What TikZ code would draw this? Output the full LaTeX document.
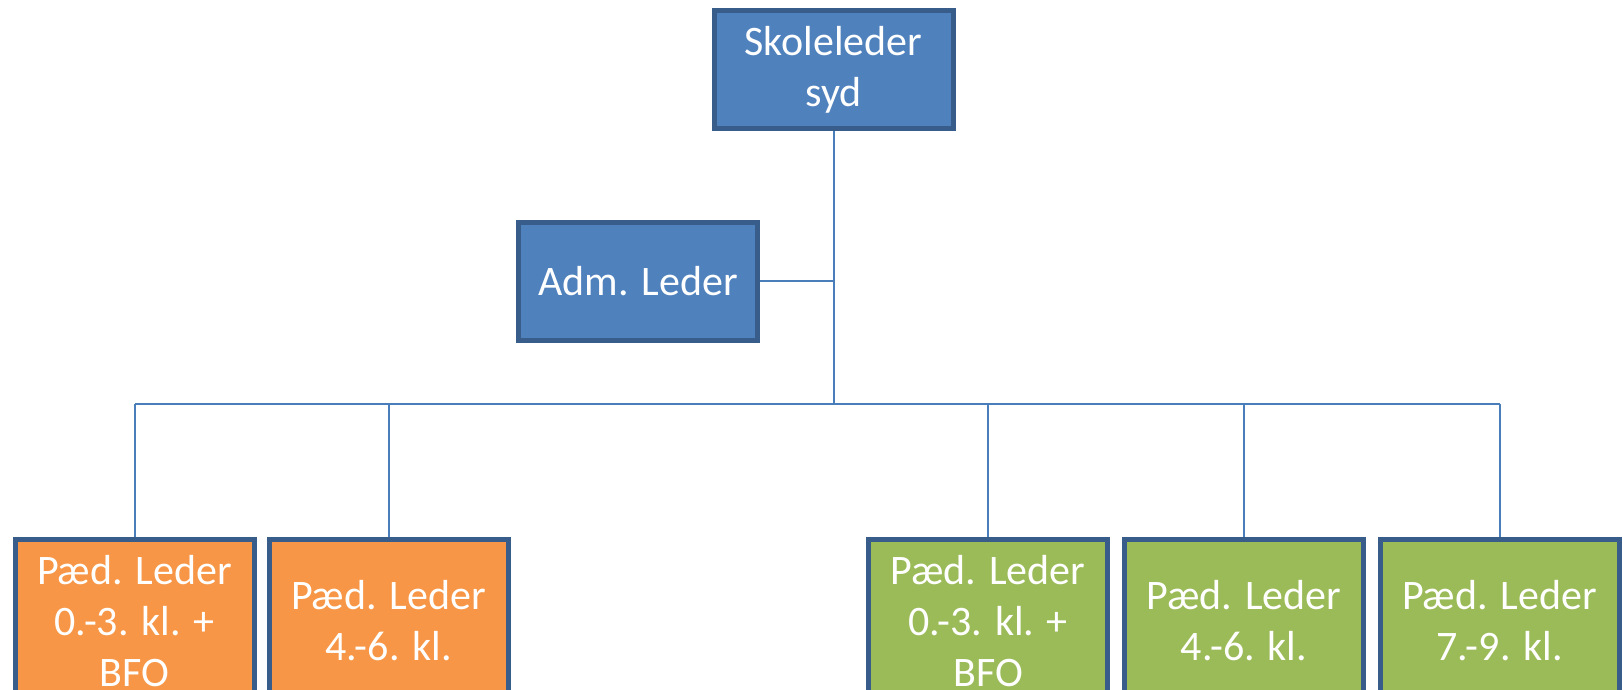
\documentclass[tikz,border=0pt]{standalone}
\usepackage{fontspec}
\setmainfont{Carlito}
\usetikzlibrary{backgrounds}
\definecolor{boxline}{HTML}{385D8A}
\definecolor{bluefill}{HTML}{4F81BD}
\definecolor{orangefill}{HTML}{F79646}
\definecolor{greenfill}{HTML}{9BBB59}
\definecolor{conn}{HTML}{4A7EBB}
\tikzset{
  orgbox/.style={draw=boxline, line width=5pt, text=white, align=center,
    font=\fontsize{42}{51}\selectfont, inner sep=0pt,
    minimum width=239pt},
  topbox/.style={orgbox, fill=bluefill, minimum height=118pt},
  lowbox/.style={orgbox, minimum height=163pt},
  orange/.style={lowbox, fill=orangefill},
  green/.style={lowbox, fill=greenfill},
  link/.style={draw=conn, line width=2pt}
}
\begin{document}
\begin{tikzpicture}[x=1pt, y=-1pt]
\useasboundingbox (0,0) rectangle (1623,690);
\clip (0,0) rectangle (1623,690);
\node[topbox] (top) at (833.5,69.5) {Skoleleder\\syd};
\node[topbox] (adm) at (638,281) {Adm. Leder};
\node[orange] (b1) at (134.5,621) {Pæd. Leder\\0.-3. kl. +\\BFO};
\node[orange] (b2) at (388.5,621) {Pæd. Leder\\4.-6. kl.};
\node[green] (b3) at (988,621) {Pæd. Leder\\0.-3. kl. +\\BFO};
\node[green] (b4) at (1244,621) {Pæd. Leder\\4.-6. kl.};
\node[green] (b5) at (1499.5,621) {Pæd. Leder\\7.-9. kl.};
\coordinate (bus) at (833.5,404);
\begin{scope}[on background layer]
\draw[link] (top.south) -- (bus);
\draw[link] (adm.east) -- (adm.east -| top.south);
\draw[link] (b1.north |- bus) -- (b5.north |- bus);
\foreach \b in {b1,b2,b3,b4,b5}{
  \draw[link] (\b.north) -- (\b.north |- bus);
}
\end{scope}
\end{tikzpicture}
\end{document}
